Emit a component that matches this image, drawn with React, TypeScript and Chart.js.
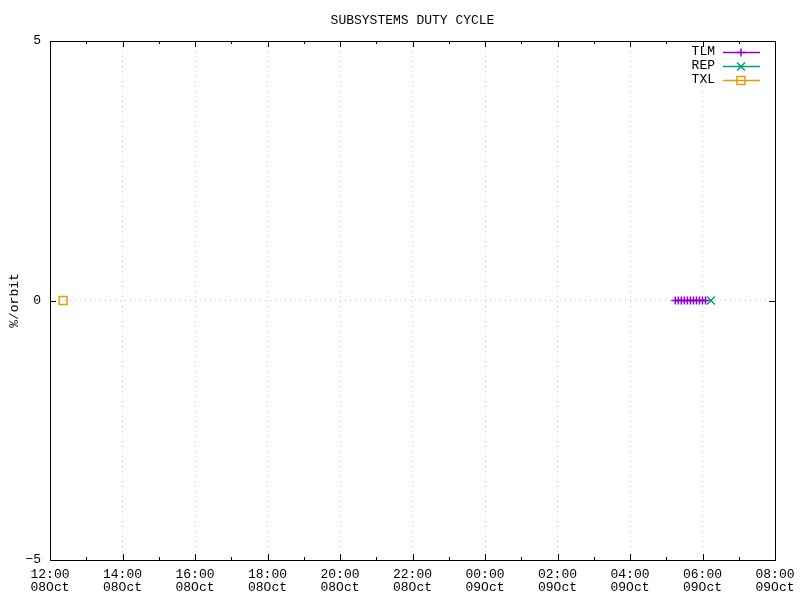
import React, { useEffect, useRef } from "react";
import { Chart, registerables } from "chart.js";

Chart.register(...registerables);

// Hours counted from 08Oct 00:00
const xTickHours = [12, 14, 16, 18, 20, 22, 24, 26, 28, 30, 32];
const xTickTimes = ["12:00", "14:00", "16:00", "18:00", "20:00", "22:00", "00:00", "02:00", "04:00", "06:00", "08:00"];
const xTickDays = ["08Oct", "08Oct", "08Oct", "08Oct", "08Oct", "08Oct", "09Oct", "09Oct", "09Oct", "09Oct", "09Oct"];
const yTicks = [-5, 0, 5];

const tlmHours = [29.25, 29.333, 29.417, 29.5, 29.583, 29.667, 29.75, 29.833, 29.917, 30.0, 30.083];
const tlmValues = [0, 0, 0, 0, 0, 0, 0, 0, 0, 0, 0];
const repHours = [30.233];
const repValues = [0];
const txlHours = [12.36];
const txlValues = [0];

const seriesNames = ["TLM", "REP", "TXL"];
const seriesColors = ["#9400d3", "#009e73", "#e69f00"];

const FONT = "'Liberation Mono', 'DejaVu Sans Mono', monospace";

function drawMarker(ctx: CanvasRenderingContext2D, kind: number, x: number, y: number) {
  ctx.beginPath();
  if (kind === 0) {
    ctx.moveTo(x - 4, y);
    ctx.lineTo(x + 4, y);
    ctx.moveTo(x, y - 4);
    ctx.lineTo(x, y + 4);
  } else if (kind === 1) {
    ctx.moveTo(x - 4, y - 4);
    ctx.lineTo(x + 4, y + 4);
    ctx.moveTo(x - 4, y + 4);
    ctx.lineTo(x + 4, y - 4);
  } else {
    ctx.rect(x - 4, y - 4, 8, 8);
  }
  ctx.stroke();
}

const framePlugin = {
  id: "gnuframe",
  afterDraw(chart: any) {
    const { ctx, chartArea: a } = chart;
    const xs = chart.scales.x;
    const ys = chart.scales.y;
    ctx.save();
    ctx.strokeStyle = "#000";
    ctx.lineWidth = 1;
    ctx.strokeRect(Math.round(a.left) + 0.5, Math.round(a.top) + 0.5, Math.round(a.right - a.left), Math.round(a.bottom - a.top));
    ctx.beginPath();
    for (let h = 12; h <= 32; h++) {
      const px = Math.round(xs.getPixelForValue(h)) + 0.5;
      const len = h % 2 === 0 ? 6 : 3;
      ctx.moveTo(px, a.bottom);
      ctx.lineTo(px, a.bottom - len);
      ctx.moveTo(px, a.top);
      ctx.lineTo(px, a.top + len);
    }
    for (const v of yTicks) {
      const py = Math.round(ys.getPixelForValue(v)) + 0.5;
      ctx.moveTo(a.left, py);
      ctx.lineTo(a.left + 6, py);
      ctx.moveTo(a.right, py);
      ctx.lineTo(a.right - 6, py);
    }
    ctx.stroke();

    // title
    ctx.fillStyle = "#000";
    ctx.font = `13px ${FONT}`;
    ctx.textAlign = "center";
    ctx.textBaseline = "middle";
    ctx.fillText("SUBSYSTEMS DUTY CYCLE", (a.left + a.right) / 2, 21);

    // y axis title
    ctx.save();
    ctx.translate(15, (a.top + a.bottom) / 2);
    ctx.rotate(-Math.PI / 2);
    ctx.fillText("%/orbit", 0, 0);
    ctx.restore();

    // legend
    for (let i = 0; i < seriesNames.length; i++) {
      const y = 52 + i * 14;
      ctx.fillStyle = "#000";
      ctx.textAlign = "right";
      ctx.fillText(seriesNames[i], 715, y);
      ctx.strokeStyle = seriesColors[i];
      ctx.lineWidth = 1.5;
      ctx.beginPath();
      ctx.moveTo(723, y + 0.5);
      ctx.lineTo(760, y + 0.5);
      ctx.stroke();
      drawMarker(ctx, i, 741, y + 0.5);
    }
    ctx.restore();
  },
};

export default function App() {
  const ref = useRef<HTMLCanvasElement | null>(null);
  useEffect(() => {
    if (!ref.current) return;
    const pointStyles = ["cross", "crossRot", "rect"];
    const radii = [4, 5.6, 5.6];
    const xsData = [tlmHours, repHours, txlHours];
    const ysData = [tlmValues, repValues, txlValues];
    const chart = new Chart(ref.current, {
      type: "scatter",
      data: {
        datasets: seriesNames.map((name, i) => ({
          label: name,
          data: xsData[i].map((h, j) => ({ x: h, y: ysData[i][j] })),
          showLine: i === 0,
          borderColor: seriesColors[i],
          backgroundColor: "rgba(0,0,0,0)",
          borderWidth: 1.5,
          pointStyle: pointStyles[i] as any,
          pointRadius: radii[i],
          pointBorderWidth: 1.5,
          pointBorderColor: seriesColors[i],
          pointBackgroundColor: "rgba(0,0,0,0)",
        })),
      },
      options: {
        responsive: false,
        animation: false,
        layout: { padding: { top: 41, right: 25, left: 0, bottom: 0 } },
        plugins: {
          legend: { display: false },
          title: { display: false },
          tooltip: { enabled: false },
        },
        scales: {
          x: {
            type: "linear",
            min: 12,
            max: 32,
            afterFit: (s: any) => {
              s.height = 40;
              s.paddingLeft = 0;
              s.paddingRight = 0;
            },
            afterBuildTicks: (s: any) => {
              const t: any[] = [];
              for (let h = 12; h <= 32; h++) t.push({ value: h });
              s.ticks = t;
            },
            ticks: {
              autoSkip: false,
              maxRotation: 0,
              padding: 8,
              color: "#000",
              font: { family: FONT, size: 13, lineHeight: 1.0 },
              callback: (v: any) => {
                const idx = xTickHours.indexOf(Number(v));
                return idx >= 0 ? [xTickTimes[idx], xTickDays[idx]] : "";
              },
            },
            grid: {
              drawTicks: false,
              color: (c: any) => {
                const v = c.tick?.value;
                return v !== undefined && v % 2 === 0 && v > 12 && v < 32 ? "#c8c8c8" : "rgba(0,0,0,0)";
              },
              lineWidth: 1,
            },
            border: { display: false, dash: [1, 4] },
          },
          y: {
            min: -5,
            max: 5,
            afterFit: (s: any) => {
              s.width = 50;
              s.paddingTop = 0;
              s.paddingBottom = 0;
            },
            afterBuildTicks: (s: any) => { s.ticks = yTicks.map((v) => ({ value: v })); },
            ticks: {
              padding: 9,
              color: "#000",
              font: { family: FONT, size: 13 },
              callback: (v: any) => (Number(v) < 0 ? "\u2212" + Math.abs(Number(v)) : String(v)),
            },
            grid: {
              drawTicks: false,
              color: (c: any) => (c.tick?.value === 0 ? "#c8c8c8" : "rgba(0,0,0,0)"),
              lineWidth: 1,
            },
            border: { display: false, dash: [1, 4] },
          },
        },
      } as any,
      plugins: [framePlugin],
    });
    return () => chart.destroy();
  }, []);
  return (
    <div style={{ position: "absolute", left: 0, top: 0, width: 800, height: 600, background: "#fff" }}>
      <canvas ref={ref} width={800} height={600} />
    </div>
  );
}
